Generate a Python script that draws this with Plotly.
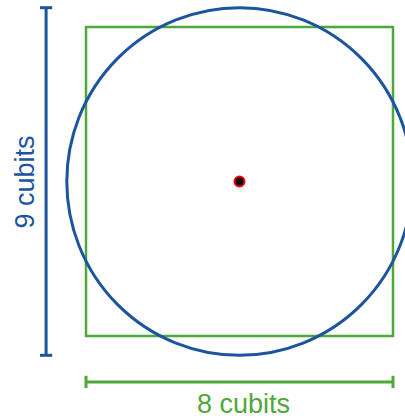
import plotly.graph_objects as go

# Data (in cubits)
square_side = [8]
circle_diameter = [9]
center = [0.0, 0.0]
labels = ["9 cubits", "8 cubits"]

BLUE = "#1c559e"
GREEN = "#4fa83a"

s = square_side[0]
d = circle_diameter[0]
cx, cy = center

fig = go.Figure()

# square
fig.add_shape(type="rect", xref="x", yref="y",
              x0=cx - s / 2, x1=cx + s / 2, y0=cy - s / 2, y1=cy + s / 2,
              line=dict(color=GREEN, width=2.5), fillcolor="rgba(0,0,0,0)")
# circle
fig.add_shape(type="circle", xref="x", yref="y",
              x0=cx - d / 2, x1=cx + d / 2, y0=cy - d / 2, y1=cy + d / 2,
              line=dict(color=BLUE, width=3), fillcolor="rgba(0,0,0,0)")

# vertical dimension line (diameter = 9)
vx = cx - 5.04
cap = 0.16
fig.add_trace(go.Scatter(x=[vx, vx], y=[cy - d / 2, cy + d / 2], mode="lines",
                         line=dict(color=BLUE, width=3), hoverinfo="skip"))
for yy in [cy - d / 2, cy + d / 2]:
    fig.add_trace(go.Scatter(x=[vx - cap, vx + cap], y=[yy, yy], mode="lines",
                             line=dict(color=BLUE, width=3), hoverinfo="skip"))

# horizontal dimension line (side = 8)
hy = cy - 5.19
capy = 0.16
fig.add_trace(go.Scatter(x=[cx - s / 2, cx + s / 2], y=[hy, hy], mode="lines",
                         line=dict(color=GREEN, width=3), hoverinfo="skip"))
for xx in [cx - s / 2, cx + s / 2]:
    fig.add_trace(go.Scatter(x=[xx, xx], y=[hy - capy, hy + capy], mode="lines",
                             line=dict(color=GREEN, width=3), hoverinfo="skip"))

# center point
fig.add_trace(go.Scatter(x=[cx], y=[cy], mode="markers",
                         marker=dict(color="black", size=10,
                                     line=dict(color="red", width=2)),
                         hoverinfo="skip"))

fig.add_annotation(x=cx - 5.59, y=cy, xref="x", yref="y", text=labels[0],
                   textangle=-90, showarrow=False,
                   font=dict(family="Liberation Sans, Arial", size=27, color=BLUE))
fig.add_annotation(x=cx, y=cy - 5.76, xref="x", yref="y", text=labels[1],
                   xshift=4, showarrow=False,
                   font=dict(family="Liberation Sans, Arial", size=27, color=GREEN))

W, H = 405, 419
px_x = 38.375
px_y = 38.625
ox, oy = 239.5, 181.5
fig.update_layout(
    width=W, height=H, margin=dict(l=0, r=0, t=0, b=0),
    paper_bgcolor="white", plot_bgcolor="white", showlegend=False,
    xaxis=dict(range=[-ox / px_x, (W - ox) / px_x], visible=False, fixedrange=True),
    yaxis=dict(range=[(oy - H) / px_y, oy / px_y], visible=False, fixedrange=True),
)

fig.write_html("out.html", config={"displayModeBar": False},
               post_script="document.body.style.margin='0';document.body.style.overflow='hidden';")
